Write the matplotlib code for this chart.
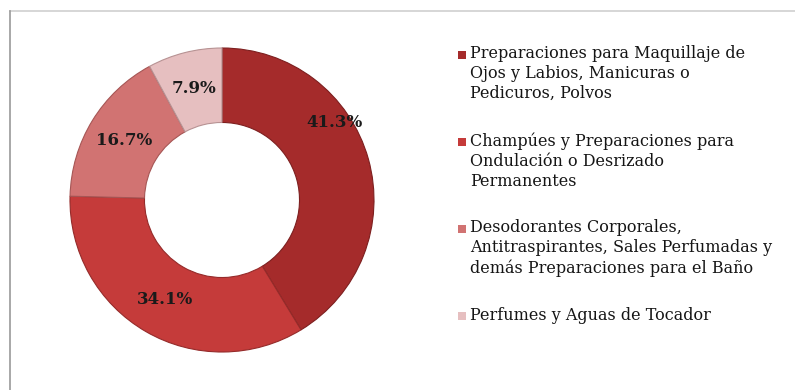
import numpy as np
import matplotlib.pyplot as plt
from matplotlib.patches import Rectangle
from matplotlib.lines import Line2D

# Datos del gráfico
categorias = [
    'Preparaciones para Maquillaje de\nOjos y Labios, Manicuras o\nPedicuros, Polvos',
    'Champúes y Preparaciones para\nOndulación o Desrizado\nPermanentes',
    'Desodorantes Corporales,\nAntitraspirantes, Sales Perfumadas y\ndemás Preparaciones para el Baño',
    'Perfumes y Aguas de Tocador',
]
porcentajes = [41.3, 34.1, 16.7, 7.9]
colores = ['#a52b2b', '#c53b3a', '#d17372', '#e6bfc0']
bordes = ['#7d1f1f', '#952b2a', '#a65655', '#b79293']

W, H = 795, 390
fig = plt.figure(figsize=(W / 100, H / 100), dpi=100)

# Marco (solo borde superior e izquierdo)
fig.add_artist(Line2D([9.5 / W, 1], [1 - 10.5 / H, 1 - 10.5 / H], color='#cfcfcf', lw=1.2))
fig.add_artist(Line2D([9.5 / W, 9.5 / W], [0, 1 - 10.5 / H], color='#9a9a9a', lw=1.2))

# Ejes cuadrados para la dona
cx, cy, r = 222, 200, 152
ax = fig.add_axes([(cx - r) / W, (H - cy - r) / H, 2 * r / W, 2 * r / H])
ancho = 0.49
wedges, _ = ax.pie(porcentajes, colors=colores, startangle=90, counterclock=False,
                   radius=1, wedgeprops=dict(width=ancho, linewidth=0.8))
for w, b in zip(wedges, bordes):
    w.set_edgecolor(b)
ax.set_xlim(-1, 1)
ax.set_ylim(-1, 1)
ax.axis('off')

# Etiquetas de porcentaje
total = sum(porcentajes)
inicio = 90
r_medio = 1 - ancho / 2
ajustes = {0: (34.6, 0.90)}  # la etiqueta mayor va desplazada hacia el borde
for i, v in enumerate(porcentajes):
    ang = inicio - v / total * 360 / 2
    inicio -= v / total * 360
    a, rr = ajustes.get(i, (ang, r_medio))
    ax.text(rr * np.cos(np.radians(a)), rr * np.sin(np.radians(a)), f'{v}%',
            ha='center', va='center', fontsize=12, fontweight='bold',
            family='DejaVu Serif', color='#1a1a1a')

# Leyenda
y_entradas = [55, 142, 229, 316]
for cat, col, y in zip(categorias, colores, y_entradas):
    fig.add_artist(Rectangle((458 / W, 1 - (y + 4) / H), 8 / W, 8 / H,
                             facecolor=col, edgecolor='none'))
    fig.text(470 / W, 1 - (y - 9.5) / H, cat, ha='left', va='top', fontsize=11.5,
             family='DejaVu Serif', color='#151515', linespacing=1.22)

fig.savefig('out.png', dpi=100, facecolor='white')
